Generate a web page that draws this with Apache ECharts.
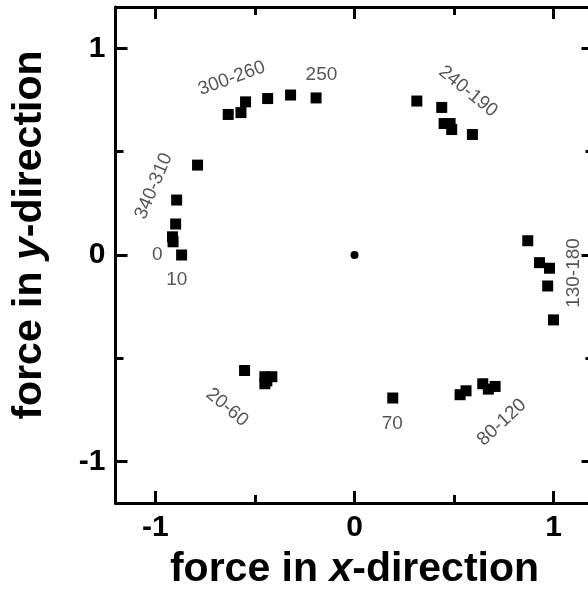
<!DOCTYPE html>
<html>
<head>
<meta charset="utf-8">
<script src="https://cdn.jsdelivr.net/npm/echarts@6/dist/echarts.min.js"></script>
<style>
  html, body { margin: 0; padding: 0; background: #fff; }
  #chart { width: 588px; height: 595px; }
</style>
</head>
<body>
<div id="chart"></div>
<script>
// Normalised force components, one marker per measured angle
const forceX = [
  -0.634, -0.570, -0.547, -0.436, -0.321,          // 300-260
  -0.193,                                          // 250
   0.313,  0.438,  0.450,  0.480,  0.488,  0.592,  // 240-190
  -0.788, -0.893, -0.898, -0.914, -0.911,          // 340-310, 0
  -0.868,                                          // 10
   0.870,  0.929,  0.979,  0.970,  0.999,          // 130-180
  -0.552, -0.450, -0.415, -0.450, -0.440,          // 20-60
   0.192,                                          // 70
   0.530,  0.560,  0.644,  0.672,  0.706           // 80-120
];
const forceY = [
   0.680,  0.689,  0.741,  0.757,  0.774,
   0.760,
   0.745,  0.714,  0.636,  0.636,  0.607,  0.583,
   0.435,  0.266,  0.150,  0.088,  0.064,
   0.000,
   0.069, -0.037, -0.064, -0.150, -0.314,
  -0.559, -0.589, -0.589, -0.623, -0.609,
  -0.692,
  -0.676, -0.657, -0.623, -0.649, -0.636
];

// Origin marker
const originX = [0];
const originY = [0];

// Angle annotations (text, anchor in data units, rotation in degrees)
const noteText   = ['300-260', '250', '240-190', '340-310', '0', '10', '130-180', '20-60', '70', '80-120'];
const noteX      = [-0.616, -0.166, 0.570, -1.008, -0.990, -0.892, 1.100, -0.640, 0.190, 0.740];
const noteY      = [ 0.855,  0.874, 0.792,  0.333,  0.002, -0.118, -0.087, -0.737, -0.815, -0.810];
const noteRotate = [20, 0, -39, 67, 0, 0, 90, -40, 0, 43];

// Axis ticks
const majorTicks = [-1, 0, 1];
const minorTicks = [-0.5, 0.5];
const axisMin = -1.2;
const axisMax = 1.2;

const FONT = '"Liberation Sans", Arial, Helvetica, sans-serif';
const INK = '#000';

function makeAxis(position, ticks, len, withLine, withLabels, name, gridDim) {
  const ax = {
    type: 'value',
    position: position,
    min: axisMin,
    max: axisMax,
    splitLine: { show: false },
    axisLine: { show: withLine, onZero: false, lineStyle: { color: INK, width: 3 } },
    axisTick: {
      show: true, inside: true, length: len, customValues: ticks,
      lineStyle: { color: INK, width: 3 }
    },
    axisLabel: withLabels ? {
      show: true, customValues: ticks, margin: gridDim === 'x' ? 10 : 10,
      color: INK, fontFamily: FONT, fontWeight: 'bold', fontSize: 30,
      formatter: v => (v < 0 ? '-' + Math.abs(v) : String(v))
    } : { show: false }
  };
  if (name) {
    Object.assign(ax, name);
  }
  return ax;
}

const titleStyle = {
  t:  { fontFamily: FONT, fontWeight: 'bold', fontSize: 41, color: INK },
  it: { fontFamily: FONT, fontWeight: 'bold', fontStyle: 'italic', fontSize: 41, color: INK }
};

const chart = echarts.init(document.getElementById('chart'), null, { renderer: 'canvas' });

chart.setOption({
  backgroundColor: '#fff',
  animation: false,
  grid: {
    left: 115.5, top: 7, right: -5.5, bottom: 92,
    containLabel: false,
    outerBoundsMode: 'none'
  },
  xAxis: [
    makeAxis('bottom', majorTicks, 12, true, true, {
      name: '{t|force in }{it|x}{t|-direction}',
      nameLocation: 'middle',
      nameGap: 46,
      nameMoveOverlap: false,
      nameTextStyle: { rich: titleStyle }
    }, 'x'),
    makeAxis('bottom', minorTicks, 8, false, false, null, 'x'),
    makeAxis('top', majorTicks, 12, true, false, null, 'x'),
    makeAxis('top', minorTicks, 8, false, false, null, 'x')
  ],
  yAxis: [
    makeAxis('left', majorTicks, 12, true, true, {
      name: '{t|force in }{it|y}{t|-direction}',
      nameLocation: 'middle',
      nameGap: 65,
      nameMoveOverlap: false,
      nameRotate: 90,
      nameTextStyle: { rich: titleStyle, padding: [0, 0, 0, 40] }
    }, 'y'),
    makeAxis('left', minorTicks, 8, false, false, null, 'y'),
    makeAxis('right', majorTicks, 12, true, false, null, 'y'),
    makeAxis('right', minorTicks, 8, false, false, null, 'y')
  ],
  series: [
    {
      name: 'force',
      type: 'scatter',
      xAxisIndex: 0, yAxisIndex: 0,
      symbol: 'rect',
      symbolSize: 11,
      itemStyle: { color: INK, opacity: 1 },
      data: forceX.map((x, i) => [x, forceY[i]]),
      z: 3
    },
    {
      name: 'origin',
      type: 'scatter',
      xAxisIndex: 0, yAxisIndex: 0,
      symbol: 'circle',
      symbolSize: 8,
      itemStyle: { color: INK, opacity: 1 },
      data: originX.map((x, i) => [x, originY[i]]),
      z: 3
    },
    {
      name: 'angles',
      type: 'scatter',
      xAxisIndex: 0, yAxisIndex: 0,
      symbolSize: 0,
      silent: true,
      data: noteText.map((t, i) => ({
        value: [noteX[i], noteY[i]],
        label: { rotate: noteRotate[i] }
      })),
      label: {
        show: true,
        position: 'inside',
        align: 'center',
        verticalAlign: 'middle',
        color: '#2b2b2b',
        fontFamily: FONT,
        fontSize: 19,
        formatter: p => noteText[p.dataIndex]
      },
      z: 4
    }
  ]
});
</script>
</body>
</html>
